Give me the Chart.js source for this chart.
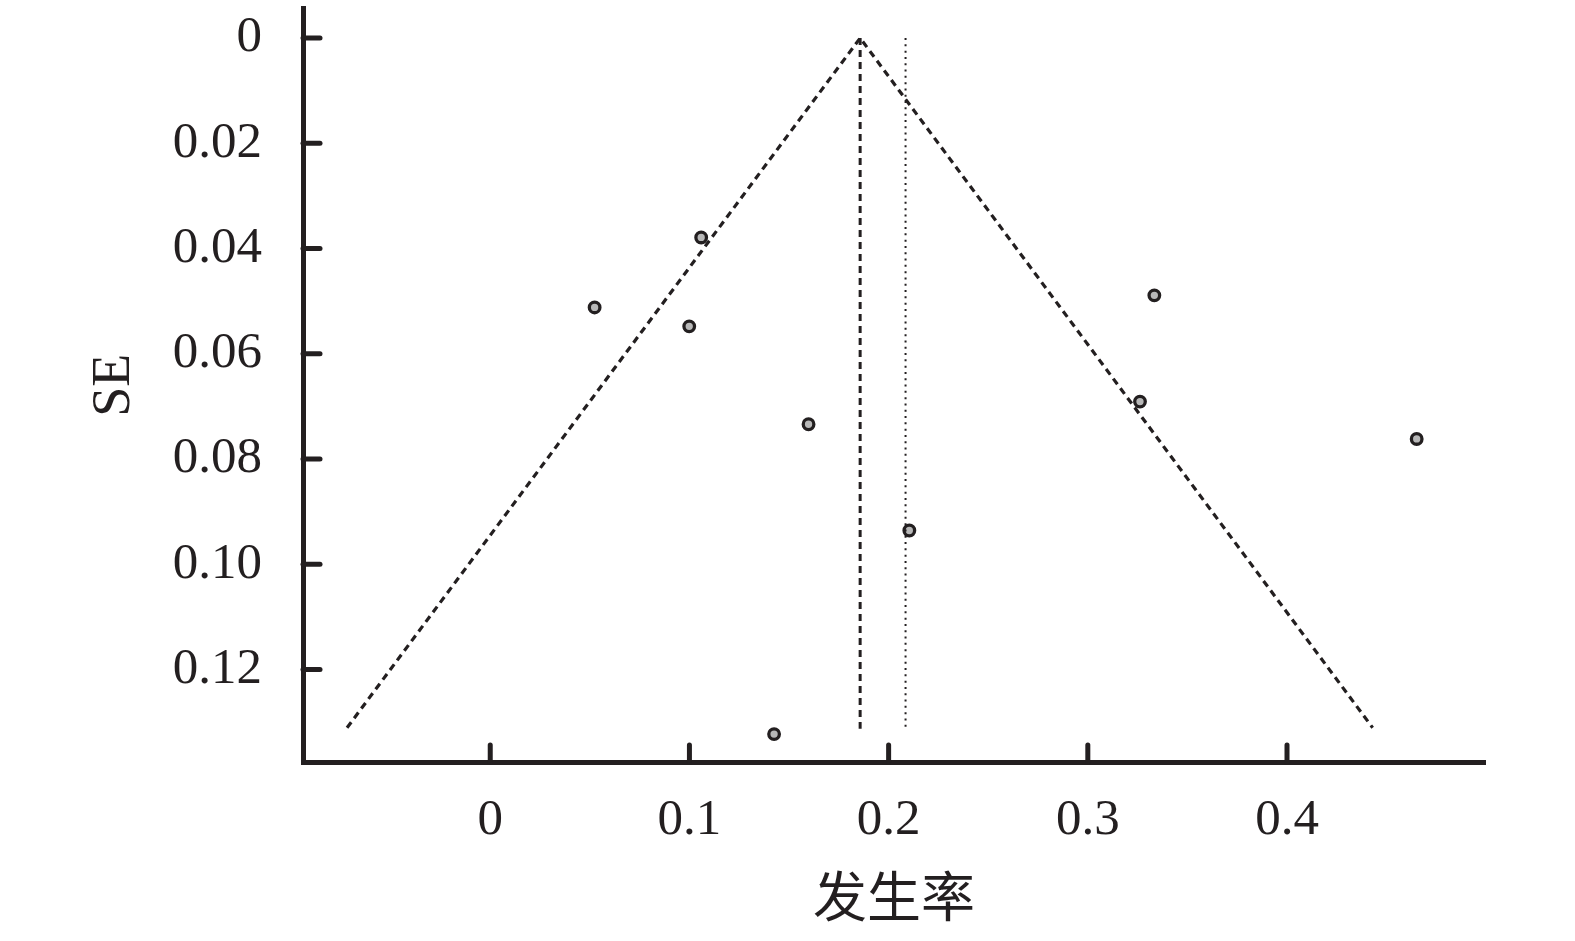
<!DOCTYPE html>
<html>
<head>
<meta charset="utf-8">
<script src="https://cdn.jsdelivr.net/npm/chart.js@4/dist/chart.umd.min.js"></script>
<style>
  html, body { margin: 0; padding: 0; background: #fff; }
  #wrap { width: 1575px; height: 941px; }
</style>
</head>
<body>
<div id="wrap"><canvas id="funnel"></canvas></div>
<script>
// 各研究的发生率与标准误
const rates = [0.0524, 0.1059, 0.0999, 0.1598, 0.1425, 0.2104, 0.3334, 0.3262, 0.4651];
const seValues = [0.0512, 0.0379, 0.0548, 0.0734, 0.1323, 0.0936, 0.0489, 0.0691, 0.0762];

// 漏斗线（合并效应 ± 1.96 SE）
const funnelX = [-0.0719, 0.1857, 0.4430];
const funnelSE = [0.1311, 0, 0.1311];
const pooledX = [0.1857, 0.1857];
const pooledSE = [0, 0.1313];
const adjustedX = [0.2085, 0.2085];
const adjustedSE = [0, 0.1316];

const xTicks = [0, 0.1, 0.2, 0.3, 0.4];
const yTicks = [0, 0.02, 0.04, 0.06, 0.08, 0.10, 0.12];

const ink = '#231f20';
const serif = "'Liberation Serif', 'DejaVu Serif', serif";

function toPoints(xs, ys) {
    return xs.map((x, i) => ({ x: x, y: ys[i] }));
}

// 向内的刻度线
const innerTicks = {
    id: 'innerTicks',
    afterDraw(chart) {
        const ctx = chart.ctx;
        const xs = chart.scales.x;
        const ys = chart.scales.y;
        const area = chart.chartArea;
        ctx.save();
        ctx.strokeStyle = ink;
        ctx.lineWidth = 5;
        ctx.lineCap = 'round';
        xTicks.forEach(v => {
            const px = xs.getPixelForValue(v);
            ctx.beginPath();
            ctx.moveTo(px, area.bottom);
            ctx.lineTo(px, area.bottom - 17);
            ctx.stroke();
        });
        yTicks.forEach(v => {
            const py = ys.getPixelForValue(v);
            ctx.beginPath();
            ctx.moveTo(area.left, py);
            ctx.lineTo(area.left + 17, py);
            ctx.stroke();
        });
        ctx.restore();
    }
};

new Chart(document.getElementById('funnel'), {
    type: 'scatter',
    data: {
        datasets: [
            {
                type: 'line',
                data: toPoints(funnelX, funnelSE),
                borderColor: ink,
                borderWidth: 3.2,
                borderDash: [7, 5],
                pointRadius: 0,
                fill: false,
                tension: 0
            },
            {
                type: 'line',
                data: toPoints(pooledX, pooledSE),
                borderColor: ink,
                borderWidth: 3,
                borderDash: [7, 5],
                pointRadius: 0,
                fill: false
            },
            {
                type: 'line',
                data: toPoints(adjustedX, adjustedSE),
                borderColor: ink,
                borderWidth: 2,
                borderDash: [2, 4.3],
                pointRadius: 0,
                fill: false
            },
            {
                data: toPoints(rates, seValues),
                backgroundColor: '#b8b8b8',
                borderColor: ink,
                borderWidth: 3.3,
                pointRadius: 5.3,
                pointHoverRadius: 5.3
            }
        ]
    },
    options: {
        responsive: true,
        maintainAspectRatio: false,
        animation: false,
        events: [],
        layout: { padding: { top: 8, right: 90, left: 0, bottom: 0 } },
        plugins: {
            legend: { display: false },
            tooltip: { enabled: false }
        },
        scales: {
            x: {
                type: 'linear',
                min: -0.094,
                max: 0.4994,
                afterFit(scale) {
                    scale.height = 179;
                    scale.paddingLeft = 0;
                    scale.paddingRight = 0;
                },
                afterBuildTicks(scale) { scale.ticks = xTicks.map(v => ({ value: v })); },
                grid: { display: false, drawTicks: false },
                border: { display: true, color: ink, width: 5 },
                ticks: {
                    color: ink,
                    padding: 28,
                    font: { family: serif, size: 51 },
                    callback: v => v === 0 ? '0' : v.toFixed(1)
                },
                title: {
                    display: true,
                    text: '发生率',
                    color: ink,
                    font: { family: "'Noto Sans CJK SC', sans-serif", size: 54, lineHeight: 1 },
                    padding: { top: 0, bottom: 18 }
                }
            },
            y: {
                type: 'linear',
                reverse: true,
                min: -0.0056,
                max: 0.1376,
                afterFit(scale) {
                    scale.width = 303;
                    scale.paddingTop = 0;
                    scale.paddingBottom = 0;
                },
                afterBuildTicks(scale) { scale.ticks = yTicks.map(v => ({ value: v })); },
                grid: { display: false, drawTicks: false },
                border: { display: true, color: ink, width: 5 },
                ticks: {
                    color: ink,
                    padding: 41,
                    font: { family: serif, size: 51 },
                    callback: v => v === 0 ? '0' : v.toFixed(2)
                },
                title: {
                    display: true,
                    text: 'SE',
                    color: ink,
                    font: { family: serif, size: 54, lineHeight: 1 },
                    padding: { top: 88, bottom: 0 }
                }
            }
        }
    },
    plugins: [innerTicks]
});
</script>
</body>
</html>
